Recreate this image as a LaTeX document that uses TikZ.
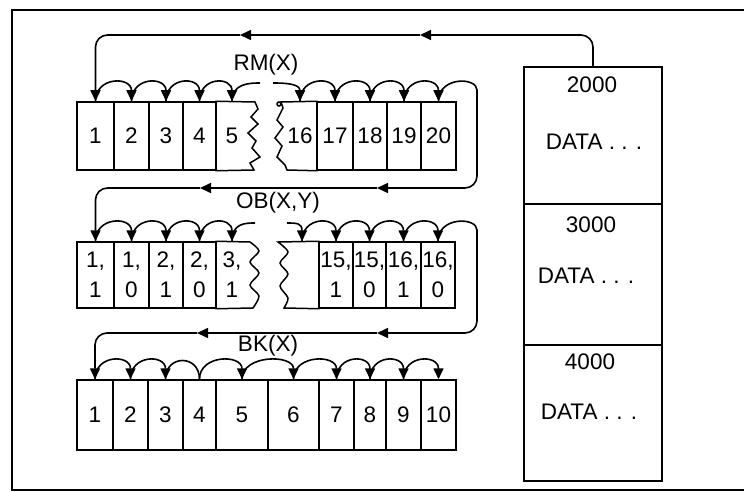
\documentclass[tikz,border=0pt]{standalone}
\usepackage{fontspec}
\setmainfont{Liberation Sans}
\usetikzlibrary{arrows.meta}

\begin{document}
\begin{tikzpicture}[x=1pt, y=-1pt,
  font=\fontsize{22.5}{30}\selectfont,
  >={Triangle[width=10pt,length=11pt]},
  cellline/.style={line width=1.5pt},
  cell/.style={draw, cellline, inner sep=0pt, align=center},
  rmcell/.style={cell, minimum height=68},
  obcell/.style={cell, minimum height=66},
  bkcell/.style={cell, minimum height=70},
  memcell/.style={cell, minimum width=138},
  link/.style={line width=1.6pt},
  hop/.style={link, ->},
  loopline/.style={hop, rounded corners=12},
  bump/.style={to path={.. controls +(0,-25) and +(0,-25) .. (\tikztotarget)}}]

  \useasboundingbox (0,0) rectangle (744,492);

  % frame
  \draw[line width=2.6pt] (744,10) -- (12,10) -- (12,490) -- (744,490);

  % memory blocks
  \node[memcell, minimum height=137] (mem2000) at (593,135.5) {};
  \node[memcell, minimum height=141] (mem3000) at (593,274.5) {};
  \node[memcell, minimum height=136] (mem4000) at (593,413) {};
  \node (mem2000a) at (592,85) {2000};
  \node (mem2000b) at (594,142) {DATA . . .};
  \node (mem3000a) at (591,225) {3000};
  \node (mem3000b) at (586,276) {DATA . . .};
  \node (mem4000a) at (590,362) {4000};
  \node (mem4000b) at (589,412) {DATA . . .};

  % RM(X) row
  \node[rmcell, minimum width=37] (rm1) at (95.5,136) {1};
  \node[rmcell, minimum width=35] (rm2) at (131.5,136) {2};
  \node[rmcell, minimum width=34] (rm3) at (166,136) {3};
  \node[rmcell, minimum width=33] (rm4) at (199.5,136) {4};
  \node[rmcell, draw=none, minimum width=32] (rm5) at (232,136) {5};
  \node[rmcell, draw=none, minimum width=34] (rm16) at (300,136) {16};
  \node[rmcell, minimum width=36] (rm17) at (335,136) {17};
  \node[rmcell, minimum width=34] (rm18) at (370,136) {18};
  \node[rmcell, minimum width=34] (rm19) at (404,136) {19};
  \node[rmcell, minimum width=35] (rm20) at (438.5,136) {20};
  \draw[cellline] (rm5.north west) -- (255,102) -- (258,109) -- (251,117) -- (258,124)
    -- (248,133) -- (256,141) -- (252,148) -- (260,157) -- (250,163) -- (254,170)
    -- (rm5.south west);
  \draw[cellline] (rm16.north east) -- (281,102) -- (283,108) -- (277,120) -- (283,127)
    -- (275,138) -- (282,146) -- (277,157) -- (285,165) -- (287,170) -- (rm16.south east);
  \draw[cellline] (279,104) circle (2);
  \node (rmlabel) at (266,65) {RM(X)};

  % OB(X,Y) row
  \node[obcell, minimum width=37] (ob1) at (95.5,275) {1,\\1};
  \node[obcell, minimum width=35] (ob2) at (131.5,275) {1,\\0};
  \node[obcell, minimum width=34] (ob3) at (166,275) {2,\\1};
  \node[obcell, minimum width=33] (ob4) at (199.5,275) {2,\\0};
  \node[obcell, draw=none, minimum width=32] (ob5) at (232,275) {3,\\1};
  \node[obcell, draw=none, minimum width=34] (ob28) at (302,275) {};
  \node[obcell, minimum width=34] (ob29) at (336,275) {15,\\1};
  \node[obcell, minimum width=33] (ob30) at (369.5,275) {15,\\0};
  \node[obcell, minimum width=35] (ob31) at (403.5,275) {16,\\1};
  \node[obcell, minimum width=34] (ob32) at (438,275) {16,\\0};
  \draw[cellline] (ob5.north west) -- (250,242) -- plot[smooth] coordinates {(250,242)
    (259,251) (250,262) (259,273) (250,285) (259,296) (253,308)} -- (ob5.south west);
  \draw[cellline] (ob28.north east) -- (278,242) -- plot[smooth] coordinates {(278,242)
    (288,252) (280,263) (288,274) (280,286) (288,298) (284,308)} -- (ob28.south east);
  \node (oblabel) at (278,203) {OB(X,Y)};

  % BK(X) row
  \node[bkcell, minimum width=36] (bk1) at (95,415) {1};
  \node[bkcell, minimum width=35] (bk2) at (130.5,415) {2};
  \node[bkcell, minimum width=35] (bk3) at (165.5,415) {3};
  \node[bkcell, minimum width=33] (bk4) at (199.5,415) {4};
  \node[bkcell, minimum width=52] (bk5) at (242,415) {5};
  \node[bkcell, minimum width=51] (bk6) at (293.5,415) {6};
  \node[bkcell, minimum width=35] (bk7) at (336.5,415) {7};
  \node[bkcell, minimum width=32] (bk8) at (370,415) {8};
  \node[bkcell, minimum width=35] (bk9) at (403.5,415) {9};
  \node[bkcell, minimum width=35] (bk10) at (438.5,415) {10};
  \node (bklabel) at (268,346) {BK(X)};

  % turning points and arrowheads of the loops
  \coordinate (memtipA) at (420,35);
  \coordinate (memtipB) at (240,35);
  \coordinate (rmcutA) at (260,83);
  \coordinate (rmcutB) at (273,83);
  \coordinate (rmturn) at (477,102);
  \coordinate (rmtipA) at (377,188);
  \coordinate (rmtipB) at (200,188);
  \coordinate (obcutA) at (255,223);
  \coordinate (obcutB) at (287,223);
  \coordinate (obturn) at (477,242);
  \coordinate (obtipA) at (377,333);
  \coordinate (obtipB) at (197,333);

  % loop from the 2000 block into RM(X)
  \draw[loopline] (mem2000.north) |- (memtipA);
  \draw[hop] (memtipA) -- (memtipB);
  \draw[loopline] (memtipB) -| (rm1.north);

  % RM(X) links
  \draw[hop] (rm1.north) to[bump] (rm2.north);
  \draw[hop] (rm2.north) to[bump] (rm3.north);
  \draw[hop] (rm3.north) to[bump] (rm4.north);
  \draw[hop] (rm4.north) to[bump] (rm5.north);
  \draw[link] (rm5.north) .. controls +(0,-18) and +(-10,0) .. (rmcutA);
  \draw[hop] (rmcutB) .. controls +(10,0) and +(0,-18) .. (rm16.north);
  \draw[hop] (rm16.north) to[bump] (rm17.north);
  \draw[hop] (rm17.north) to[bump] (rm18.north);
  \draw[hop] (rm18.north) to[bump] (rm19.north);
  \draw[hop] (rm19.north) to[bump] (rm20.north);
  \draw[loopline] (rm20.north) to[bump] (rmturn) |- (rmtipA);
  \draw[hop] (rmtipA) -- (rmtipB);
  \draw[loopline] (rmtipB) -| (ob1.north);

  % OB(X,Y) links
  \draw[hop] (ob1.north) to[bump] (ob2.north);
  \draw[hop] (ob2.north) to[bump] (ob3.north);
  \draw[hop] (ob3.north) to[bump] (ob4.north);
  \draw[hop] (ob4.north) to[bump] (ob5.north);
  \draw[link] (ob5.north) .. controls +(0,-18) and +(-10,0) .. (obcutA);
  \draw[hop] (obcutB) .. controls +(10,0) and +(0,-18) .. (ob28.north);
  \draw[hop] (ob28.north) to[bump] (ob29.north);
  \draw[hop] (ob29.north) to[bump] (ob30.north);
  \draw[hop] (ob30.north) to[bump] (ob31.north);
  \draw[hop] (ob31.north) to[bump] (ob32.north);
  \draw[loopline] (ob32.north) to[bump] (obturn) |- (obtipA);
  \draw[hop] (obtipA) -- (obtipB);
  \draw[loopline] (obtipB) -| (bk1.north);

  % BK(X) links
  \draw[hop] (bk1.north) to[bump] (bk2.north);
  \draw[hop] (bk2.north) to[bump] (bk3.north);
  \draw[link] (bk3.north) to[bump] (bk4.north);
  \draw[hop] (bk4.north) to[bump] (bk5.north);
  \draw[hop] (bk5.north) to[bump] (bk6.north);
  \draw[hop] (bk6.north) to[bump] (bk7.north);
  \draw[hop] (bk7.north) to[bump] (bk8.north);
  \draw[hop] (bk8.north) to[bump] (bk9.north);
  \draw[hop] (bk9.north) to[bump] (bk10.north);

\end{tikzpicture}
\end{document}
